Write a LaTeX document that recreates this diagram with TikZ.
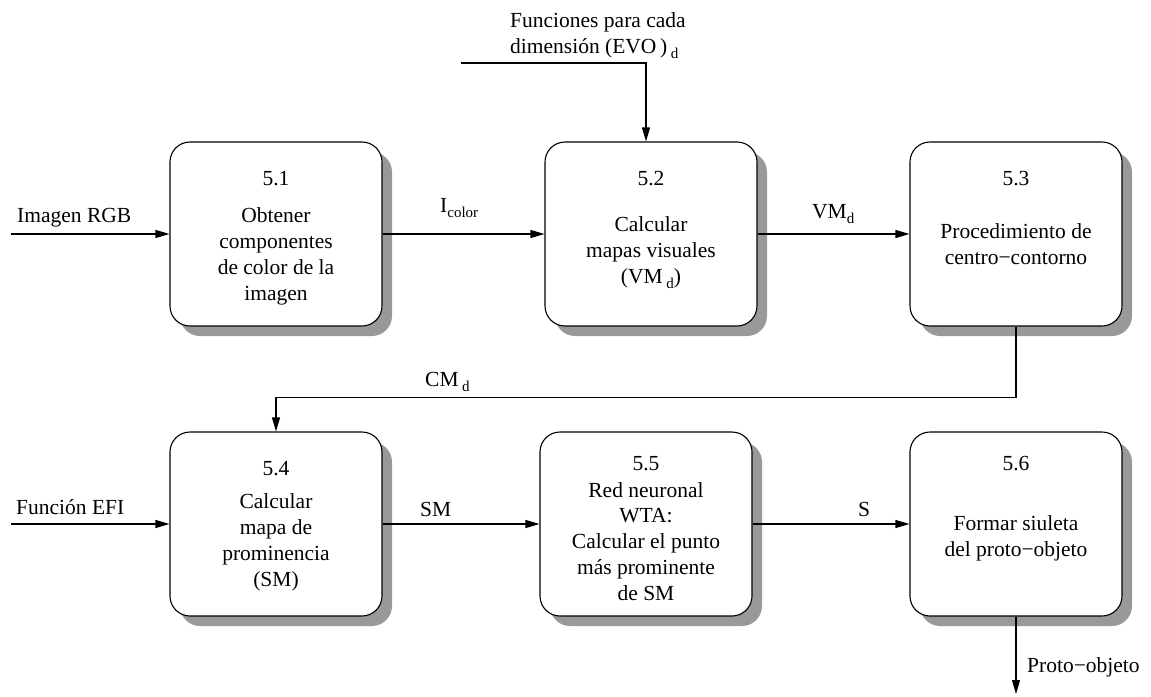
\documentclass[tikz,border=0pt]{standalone}
\usepackage{fontspec}
\setmainfont{Liberation Serif}
\usetikzlibrary{arrows.meta,shadows,calc}
\newcommand{\sbs}[1]{\raisebox{-5pt}{\fontsize{15}{15}\selectfont #1}}
\definecolor{shadowgray}{RGB}{153,153,153}
\tikzset{
  box/.style={draw, line width=1.1pt, rounded corners=20pt, fill=white,
    minimum width=212pt, minimum height=184pt, inner sep=0pt,
    drop shadow={shadow xshift=10pt, shadow yshift=-10pt, fill=shadowgray, opacity=1}},
  num/.style={anchor=base, inner sep=0pt},
  body/.style={anchor=base, inner sep=0pt, align=center},
  lbl/.style={anchor=base west, inner sep=0pt},
  arr/.style={line width=1.1pt, -{Triangle[length=14pt,width=8pt]}},
  ln/.style={line width=1.1pt}
}
\begin{document}
\begin{tikzpicture}[x=1pt,y=-1pt,font=\fontsize{21.5}{25.7}\selectfont]
\useasboundingbox (0,0) rectangle (1151,696);
% boxes
\node[box] (b51) at (276,234) {};
\node[box] (b52) at (651,234) {};
\node[box] (b53) at (1016,234) {};
\node[box] (b54) at (276,524) {};
\node[box] (b55) at (646,524) {};
\node[box] (b56) at (1016,524) {};
% box texts (body anchored at baseline of last line)
\node[num] (n51) at (276,185) {5.1};
\node[body] (t51) at (276,300) {Obtener\\componentes\\de color de la\\imagen};
\node[num] (n52) at (651,185) {5.2};
\node[body] (t52) at (651,283) {Calcular\\mapas visuales\\(VM\,\sbs{d})};
\node[num] (n53) at (1016,185) {5.3};
\node[body] (t53) at (1016,264) {Procedimiento de\\centro−contorno};
\node[num] (n54) at (276,475) {5.4};
\node[body] (t54) at (276,586) {Calcular\\mapa de\\prominencia\\(SM)};
\node[num] (n55) at (646,470) {5.5};
\node[body] (t55) at (646,600) {Red neuronal\\WTA:\\Calcular el punto\\más prominente\\de SM};
\node[num] (n56) at (1016,470) {5.6};
\node[body] (t56) at (1016,556) {Formar siuleta\\del proto−objeto};
% inputs / outputs
\coordinate (in1) at (11,234);
\coordinate (in2) at (11,524);
\coordinate (top1) at (461,63);
\coordinate (out) at (1016,694);
% connectors
\draw[arr] (in1) -- (b51.west);
\draw[arr] (b51.east) -- (b52.west);
\draw[arr] (b52.east) -- (b53.west);
\draw[arr] (top1) -| ($(b52.north)+(-5,0)$);
\draw[arr] (b53.south) -- ++(0,71) -| (b54.north);
\draw[arr] (in2) -- (b54.west);
\draw[arr] (b54.east) -- (b55.west);
\draw[arr] (b55.east) -- (b56.west);
\draw[arr] (b56.south) -- (out);
% labels
\node[lbl] (l1) at (17,222) {Imagen RGB};
\node[lbl] (l2) at (440,212) {I\sbs{color}};
\node[lbl] (l3) at (812,218) {VM\sbs{d}};
\node[lbl] (l4) at (425,386) {CM\,\sbs{d}};
\node[lbl] (l5) at (16,514) {Función EFI};
\node[lbl] (l6) at (420,516) {SM};
\node[lbl] (l7) at (858,516) {S};
\node[lbl] (l8) at (1027,672) {Proto−objeto};
\node[lbl, align=left] (l9) at (510,53) {Funciones para cada\\dimensión (EVO\,)\,\sbs{d}};
\end{tikzpicture}
\end{document}
